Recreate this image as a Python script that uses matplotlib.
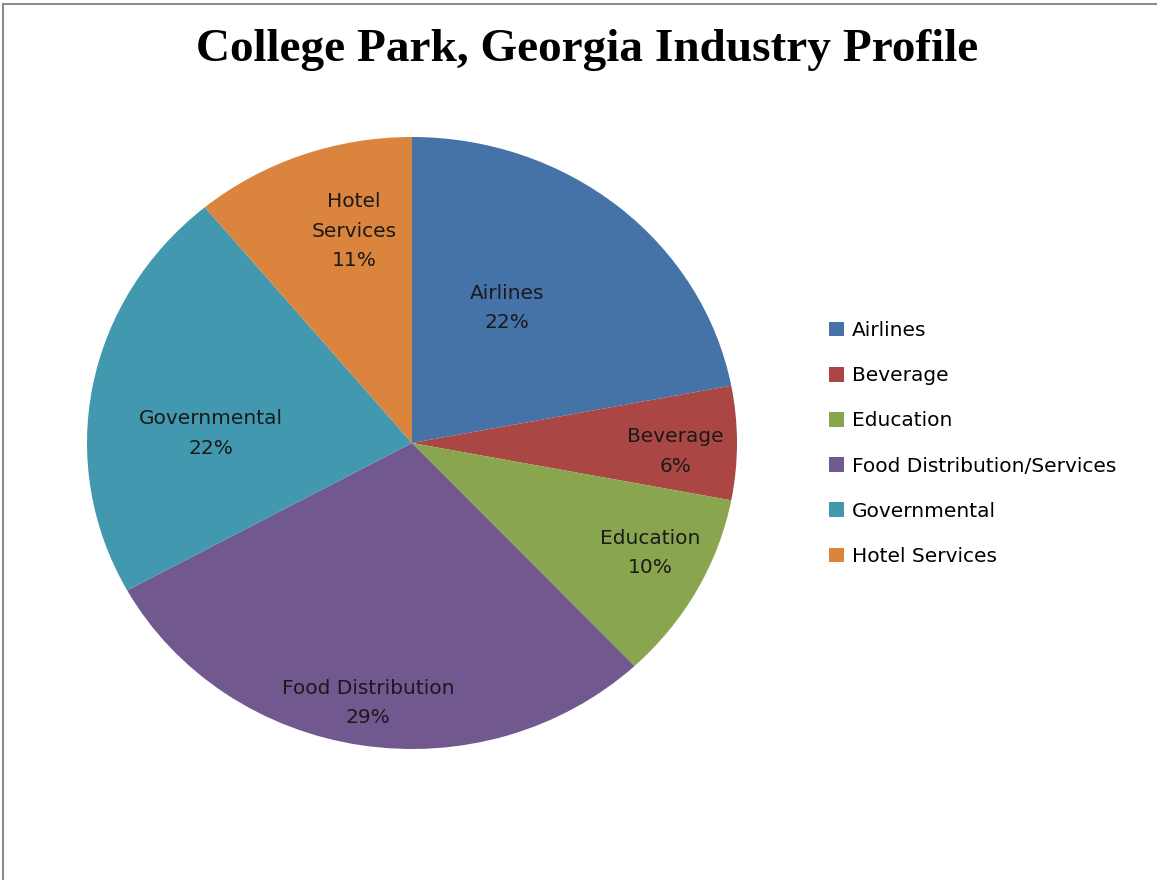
import numpy as np
import matplotlib
matplotlib.use("Agg")
import matplotlib.pyplot as plt
from matplotlib.patches import Rectangle

# data
categories = ["Airlines", "Beverage", "Education", "Food Distribution/Services",
              "Governmental", "Hotel Services"]
slice_labels = ["Airlines", "Beverage", "Education", "Food Distribution",
                "Governmental", "Hotel\nServices"]
shares = [22, 6, 10, 29, 22, 11]
colors = ["#4572A7", "#AA4643", "#89A54E", "#71588F", "#4198AF", "#DB843D"]

# label placement (radius fraction, angle nudge in degrees)
label_r = [0.53, 0.81, 0.816, 0.86, 0.62, 0.715]
label_nudge = [6, -2, 2.7, 0, 8, -5.4]

W, H = 1157, 880
fig = plt.figure(figsize=(W / 100, H / 100), dpi=100)
fig.patch.set_facecolor("white")

# outer frame (only top and left edges show)
fig.add_artist(Rectangle((3 / W, -0.1), 1.2, 1.1 - 4 / H,
                         transform=fig.transFigure, fill=False,
                         edgecolor="#8c8c8c", linewidth=1.5))

# pie is slightly stretched horizontally like the source
cx, cy, rx, ry = 412, 443, 325, 306
ax = fig.add_axes([(cx - rx) / W, (H - cy - ry) / H, 2 * rx / W, 2 * ry / H])
wedges, _ = ax.pie(shares, colors=colors, startangle=90, counterclock=False,
                   radius=1, wedgeprops=dict(linewidth=0))
ax.set_aspect("auto")
ax.set_xlim(-1, 1)
ax.set_ylim(-1, 1)
ax.axis("off")

lab_font = "DejaVu Sans"
for w, lab, s, r, nd in zip(wedges, slice_labels, shares, label_r, label_nudge):
    mid = np.deg2rad((w.theta1 + w.theta2) / 2 + nd)
    ax.text(r * np.cos(mid), r * np.sin(mid), f"{lab}\n{s}%",
            ha="center", va="center", fontsize=14.5, family=lab_font,
            color="#1a1a1a", linespacing=1.7)

fig.text(587 / W, 1 - 50 / H, "College Park, Georgia Industry Profile",
         ha="center", va="center", fontsize=34, fontweight="bold",
         family="Liberation Serif", color="black")

leg = fig.legend(wedges, categories, loc="upper left",
                 bbox_to_anchor=(829 / W, 1 - 321 / H), frameon=False,
                 prop=dict(family=lab_font, size=14.5),
                 handlelength=0.75, handleheight=0.75, handletextpad=0.4,
                 labelspacing=1.3, borderaxespad=0, borderpad=0)

fig.savefig("out.png", dpi=100)
